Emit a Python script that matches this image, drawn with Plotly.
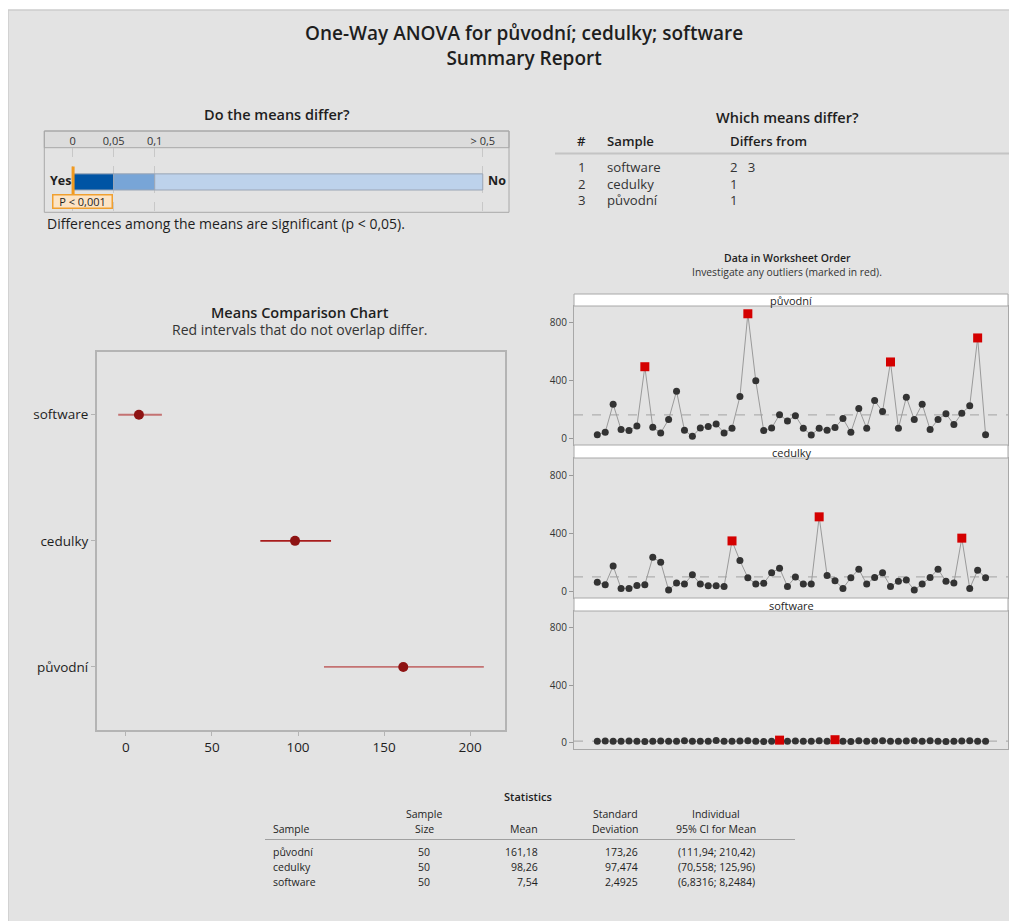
import plotly.graph_objects as go

OFF = 8                      # page body margin of the browser
W, H = 1017 - OFF, 921 - OFF
FONT = "Open Sans"
TXT = "#1e1e1e"

# ---------------- data ----------------
samples = ["původní", "cedulky", "software"]
sample_size = [50, 50, 50]
mean_str = ["161,18", "98,26", "7,54"]
sd_str = ["173,26", "97,474", "2,4925"]
ci_str = ["(111,94; 210,42)", "(70,558; 125,96)", "(6,8316; 8,2484)"]
means = [161.18, 98.26, 7.54]

# means comparison chart (top to bottom)
cmp_samples = ["software", "cedulky", "původní"]
cmp_means = [7.54, 98.26, 161.18]
cmp_low = [-4.5, 78.1, 115.1]
cmp_high = [20.9, 119.2, 208.0]
cmp_colors = ["#c47272", "#a81c1c", "#c47272"]

# p-value scale
p_breaks = [0, 0.05, 0.1, 0.5]
p_labels = ["0", "0,05", "0,1", "> 0,5"]
p_colors = ["#0054a4", "#78a5d7", "#bdd2eb"]
p_value = 0.0005

# which means differ
wm_num = ["1", "2", "3"]
wm_sample = ["software", "cedulky", "původní"]
wm_differs = [["2", "3"], ["1"], ["1"]]

# data in worksheet order
puvodni = [24, 40, 236, 59, 52, 84, 496, 75, 36, 129, 326, 54, 12, 70, 80, 98, 36, 68, 289, 864,
           398, 52, 70, 163, 119, 156, 68, 22, 68, 54, 73, 136, 40, 205, 68, 261, 184, 529, 68, 284,
           129, 236, 59, 129, 170, 94, 173, 224, 696, 24]
cedulky = [60, 44, 173, 18, 18, 39, 44, 233, 198, 7, 55, 48, 113, 48, 37, 37, 32, 346, 210, 92,
           48, 53, 127, 157, 32, 97, 48, 48, 512, 108, 71, 18, 92, 150, 48, 94, 127, 32, 67, 76,
           7, 48, 94, 150, 67, 55, 365, 18, 143, 92]
software = [7, 8, 6, 7, 8, 7, 5, 7, 8, 6, 7, 9, 7, 6, 7, 11, 7, 6, 8, 9, 7, 5, 7, 14, 7,
            8, 6, 7, 9, 7, 17, 7, 5, 10, 7, 8, 9, 6, 7, 8, 9, 7, 10, 7, 5, 7, 8, 9, 7, 7]
outliers = {"původní": [7, 20, 38, 49], "cedulky": [18, 29, 47], "software": [24, 31]}
series = {"původní": puvodni, "cedulky": cedulky, "software": software}


def X(x):
    return (x - OFF) / W


def Y(y):
    return 1 - (y - OFF) / H


annotations = []
shapes = []


def txt(x, y, s, size, weight="normal", xanchor="center", color=TXT, **kw):
    annotations.append(dict(x=X(x), y=Y(y), xref="paper", yref="paper", text=s,
                            showarrow=False, xanchor=xanchor, yanchor="middle",
                            font=dict(family=FONT, size=size, color=color, weight=weight), **kw))


def rect(x0, y0, x1, y1, fill="rgba(0,0,0,0)", line="#a8a8a8", lw=1, layer="below"):
    shapes.append(dict(type="rect", xref="paper", yref="paper", x0=X(x0), x1=X(x1),
                       y0=Y(y0), y1=Y(y1), fillcolor=fill, line=dict(color=line, width=lw),
                       layer=layer))


def hline(x0, x1, y, color, lw=1):
    shapes.append(dict(type="line", xref="paper", yref="paper", x0=X(x0), x1=X(x1),
                       y0=Y(y), y1=Y(y), line=dict(color=color, width=lw), layer="above"))


fig = go.Figure()

# background
rect(8, 10, 1030, 940, fill="#e3e3e3", line="#cdcdcd", lw=1.5)

# ---------------- titles ----------------
txt(524, 45.5, "One-Way ANOVA for původní; cedulky; software<br>Summary Report", 19, weight=600)

# ---------------- Do the means differ? ----------------
txt(277, 114, "Do the means differ?", 14.5, weight=600)
rect(44.3, 131, 509, 147.7, fill="#dcdcdc", line="#a8a8a8")
for i in range(3):
    fig.add_trace(go.Bar(orientation="h", y=[0.47], x=[p_breaks[i + 1] - p_breaks[i]],
                         base=[p_breaks[i]], width=0.25, marker=dict(color=p_colors[i],
                         line=dict(color="#9aa5b5", width=1)), xaxis="x5", yaxis="y5",
                         showlegend=False, hoverinfo="skip"))
shapes.append(dict(type="line", xref="x5", yref="y5", x0=p_value, x1=p_value, y0=0.27, y1=0.71,
                   line=dict(color="#f29a1f", width=3), layer="above"))
shapes.append(dict(type="rect", xref="paper", yref="paper", x0=X(44.3), x1=X(509),
                   y0=Y(131), y1=Y(212.3), line=dict(color="#a8a8a8", width=1), layer="above"))
txt(60, 181, "Yes", 12.5, weight=700)
txt(497, 181, "No", 12.5, weight=700)
txt(82.8, 201.5, "P < 0,001", 11, bgcolor="#fce4c6", bordercolor="#f0a030", borderwidth=1.5,
    borderpad=0, width=58, height=12)
txt(44.5, 224, "Differences among the means are significant (p < 0,05).", 14, xanchor="left")

# ---------------- Which means differ? ----------------
txt(787, 118, "Which means differ?", 14.5, weight=600)
txt(581.5, 141.5, "#", 13.2, weight=600)
txt(604.5, 141.5, "Sample", 13.2, weight=600, xanchor="left")
txt(727.5, 141.5, "Differs from", 13.2, weight=600, xanchor="left")
hline(555, 1017, 153.5, "#c4c4c4", 2)
for i in range(3):
    yy = 167.5 + i * 16
    txt(581.5, yy, wm_num[i], 13.2, color="#333")
    txt(604.5, yy, wm_sample[i], 13.2, xanchor="left", color="#333")
    txt(727.5, yy, "   ".join(wm_differs[i]), 13.2, xanchor="left", color="#333")

# ---------------- Means Comparison Chart ----------------
txt(300, 312.5, "Means Comparison Chart", 14.5, weight=600)
txt(300, 329.5, "Red intervals that do not overlap differ.", 14, color="#333")
for i in range(3):
    fig.add_trace(go.Scatter(
        x=[cmp_means[i]], y=[cmp_samples[i]], mode="markers",
        marker=dict(color="#8e1313", size=10),
        error_x=dict(type="data", symmetric=False, array=[cmp_high[i] - cmp_means[i]],
                     arrayminus=[cmp_means[i] - cmp_low[i]], color=cmp_colors[i],
                     thickness=1.8, width=0),
        xaxis="x", yaxis="y", showlegend=False, hoverinfo="skip"))

# ---------------- Data in Worksheet Order ----------------
txt(787, 258.5, "Data in Worksheet Order", 10.5, weight=600)
txt(787, 272, "Investigate any outliers (marked in red).", 10.3, color="#333")
strips = [(294, 306), (445, 458), (598, 611)]
for k, s in enumerate(samples):
    vals = series[s]
    idx = list(range(1, len(vals) + 1))
    ax = str(k + 2)
    fig.add_trace(go.Scatter(x=idx, y=vals, mode="lines+markers",
                             line=dict(color="#9a9a9a", width=1),
                             marker=dict(color="#333333", size=7),
                             xaxis="x" + ax, yaxis="y" + ax, showlegend=False, hoverinfo="skip"))
    ox = outliers[s]
    fig.add_trace(go.Scatter(x=ox, y=[vals[j - 1] for j in ox], mode="markers",
                             marker=dict(color="#d40000", size=9, symbol="square"),
                             xaxis="x" + ax, yaxis="y" + ax, showlegend=False, hoverinfo="skip"))
    shapes.append(dict(type="line", xref="x" + ax + " domain", yref="y" + ax, x0=0, x1=1,
                       y0=means[k], y1=means[k], line=dict(color="#b0b0b0", width=1.2, dash="dash"),
                       layer="below"))
    t, b = strips[k]
    rect(574, t, 1008, b, fill="white", line="#a8a8a8", layer="above")
    txt(791, (t + b) / 2 + 0.5, s, 11)

# ---------------- Statistics ----------------
txt(528, 796, "Statistics", 11, weight=600)
hs = 10.5
txt(271, 829, "Sample", hs, xanchor="left")
txt(424, 814, "Sample", hs)
txt(424, 829, "Size", hs)
txt(540, 829, "Mean", hs, xanchor="right")
txt(640, 814, "Standard", hs, xanchor="right")
txt(640, 829, "Deviation", hs, xanchor="right")
txt(716, 814, "Individual", hs)
txt(716, 829, "95% CI for Mean", hs)
hline(265, 795, 839.5, "#a0a0a0", 1)
for i in range(3):
    yy = 851.5 + i * 15
    txt(271, yy, samples[i], hs, xanchor="left")
    txt(424, yy, str(sample_size[i]), hs)
    txt(540, yy, mean_str[i], hs, xanchor="right")
    txt(640, yy, sd_str[i], hs, xanchor="right")
    txt(716, yy, ci_str[i], hs)

# ---------------- axes ----------------
layout_axes = dict(
    xaxis=dict(domain=[X(96.7), X(505)], range=[-17.0, 220.3], tickvals=[0, 50, 100, 150, 200],
               showline=True, mirror=True, linecolor="#b4b4b4", linewidth=1.5, ticks="outside",
               ticklen=4, tickcolor="#b4b4b4", showgrid=False, zeroline=False,
               tickfont=dict(family=FONT, size=13.5, color=TXT), anchor="y"),
    yaxis=dict(domain=[Y(730), Y(351.7)], type="category",
               categoryorder="array", categoryarray=["původní", "cedulky", "software"],
               range=[-0.5, 2.5], showline=True, mirror=True, linecolor="#b4b4b4", linewidth=1.5,
               ticks="outside", ticklen=4, tickcolor="#b4b4b4", showgrid=False, zeroline=False,
               tickfont=dict(family=FONT, size=13.5, color=TXT), anchor="x"),
    xaxis5=dict(domain=[X(44.3), X(509)], range=[-0.0346, 0.532], side="top",
                tickvals=p_breaks, ticktext=p_labels, ticks="", showgrid=True, griddash="dash",
                gridcolor="#c8c8c8", gridwidth=1, zeroline=False, showline=False,
                tickfont=dict(family=FONT, size=11, color="#333"), anchor="y5"),
    yaxis5=dict(domain=[Y(212.3), Y(147.7)], range=[0, 1], visible=False, anchor="x5"),
)
panel_dom = [(306, 445), (458, 598), (611, 749)]
for k in range(3):
    ax = str(k + 2)
    t, b = panel_dom[k]
    layout_axes["xaxis" + ax] = dict(domain=[X(574), X(1008)], range=[-1.94, 52.83],
                                     showticklabels=False, ticks="", showgrid=False,
                                     zeroline=False, showline=True, mirror=True,
                                     linecolor="#a8a8a8", anchor="y" + ax)
    layout_axes["yaxis" + ax] = dict(domain=[Y(b), Y(t)], range=[-48, 918],
                                     tickvals=[0, 400, 800], ticks="outside", ticklen=4,
                                     tickcolor="#999", showgrid=False, zeroline=False,
                                     showline=True, mirror=True, linecolor="#a8a8a8",
                                     tickfont=dict(family=FONT, size=10, color="#333"),
                                     anchor="x" + ax)

fig.update_layout(
    width=W, height=H, margin=dict(l=0, r=0, t=0, b=0),
    paper_bgcolor="white", plot_bgcolor="white", barmode="overlay",
    showlegend=False, annotations=annotations, shapes=shapes,
    font=dict(family=FONT, color=TXT),
    **layout_axes,
)

fig.write_html("out.html")
